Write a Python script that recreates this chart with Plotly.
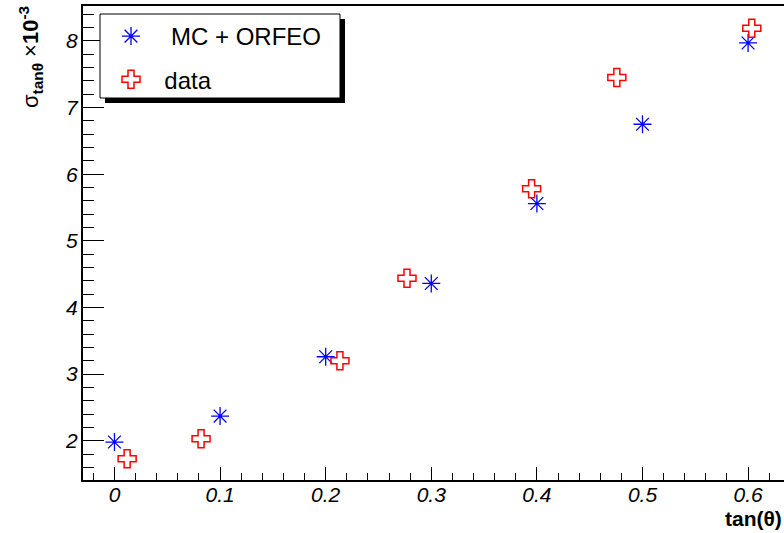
import plotly.graph_objects as go

# ---- data ----
mc_x = [0.0, 0.1, 0.2, 0.3, 0.4, 0.5, 0.6]
mc_y = [1.98, 2.37, 3.26, 4.36, 5.56, 6.75, 7.97]
data_x = [0.012, 0.082, 0.2135, 0.277, 0.395, 0.4757, 0.6035]
data_y = [1.73, 2.03, 3.20, 4.44, 5.78, 7.45, 8.19]
x_ticks = [0, 0.1, 0.2, 0.3, 0.4, 0.5, 0.6]
x_tick_labels = ["0", "0.1", "0.2", "0.3", "0.4", "0.5", "0.6"]
y_ticks = [2, 3, 4, 5, 6, 7, 8]
y_tick_labels = ["2", "3", "4", "5", "6", "7", "8"]
series_names = ["\u00a0\u00a0\u00a0MC + ORFEO", "\u00a0\u00a0data"]

W, H = 784, 533
L, R, T, B = 83, 0, 6, 53
PW, PH = W - L - R, H - T - B

def px_x(p):
    return (p - L) / PW

def px_y(p):
    return 1 - (p - T) / PH

FONT = "Liberation Sans, Arial, sans-serif"

fig = go.Figure()
fig.add_trace(go.Scatter(
    x=mc_x, y=mc_y, mode="markers", name=series_names[0],
    legendgroup="a",
    marker=dict(symbol="asterisk-open", size=15, color="#0000ff",
                line=dict(color="#0000ff", width=1.3)),
))
fig.add_trace(go.Scatter(
    x=data_x, y=data_y, mode="markers", name=series_names[1],
    legendgroup="b",
    marker=dict(symbol="cross-open", size=15, color="#ff0000",
                line=dict(color="#ff0000", width=1.5)),
))

# legend shadow and box
fig.add_shape(type="rect", xref="paper", yref="paper",
              x0=px_x(105), x1=px_x(345), y0=px_y(103), y1=px_y(19),
              fillcolor="black", line=dict(width=0), layer="above")
fig.add_shape(type="rect", xref="paper", yref="paper",
              x0=px_x(100), x1=px_x(340), y0=px_y(98), y1=px_y(14),
              fillcolor="white", line=dict(width=1, color="black"),
              layer="above")

fig.add_annotation(
    xref="paper", yref="paper", x=px_x(30), y=px_y(4),
    xanchor="center", yanchor="top", textangle=-90, showarrow=False,
    text="σ<sub><b>tanθ</b></sub> ×<b>10<sup>-3</sup></b>",
    font=dict(family=FONT, size=22, color="black"),
)
fig.add_annotation(
    xref="paper", yref="paper", x=1.0, y=px_y(518),
    xanchor="right", yanchor="middle", showarrow=False,
    text="<b>tan(θ)</b>",
    font=dict(family=FONT, size=21, color="black"),
)

fig.update_layout(
    width=W, height=H,
    margin=dict(l=L, r=R, t=T, b=B, pad=0),
    plot_bgcolor="white", paper_bgcolor="white",
    showlegend=True,
    legend=dict(
        x=px_x(111), y=px_y(14), xanchor="left", yanchor="top",
        bgcolor="rgba(0,0,0,0)", borderwidth=0,
        font=dict(family=FONT, size=24, color="black"),
        tracegroupgap=9,
    ),
    xaxis=dict(
        range=[-0.0298, 0.634],
        tickmode="array", tickvals=x_ticks, ticktext=x_tick_labels,
        ticks="inside", ticklen=13, tickwidth=1, tickcolor="black",
        minor=dict(dtick=0.02, tick0=0, ticks="inside", ticklen=7,
                   tickcolor="black", tickwidth=1),
        showline=True, linecolor="black", linewidth=2, mirror=True,
        showgrid=False, zeroline=False,
        tickfont=dict(family=FONT, size=21, color="black", style="italic"),
        ticklabelstandoff=-5,
    ),
    yaxis=dict(
        range=[1.41, 8.525],
        tickmode="array", tickvals=y_ticks, ticktext=y_tick_labels,
        ticks="inside", ticklen=21, tickwidth=1, tickcolor="black",
        minor=dict(dtick=0.2, tick0=0, ticks="inside", ticklen=11,
                   tickcolor="black", tickwidth=1),
        showline=True, linecolor="black", linewidth=2, mirror=False,
        showgrid=False, zeroline=False,
        tickfont=dict(family=FONT, size=21, color="black", style="italic"),
        ticklabelstandoff=-1,
    ),
)

fig.write_html("out.html", config={"displayModeBar": False},
               post_script="document.body.style.margin='0';")
